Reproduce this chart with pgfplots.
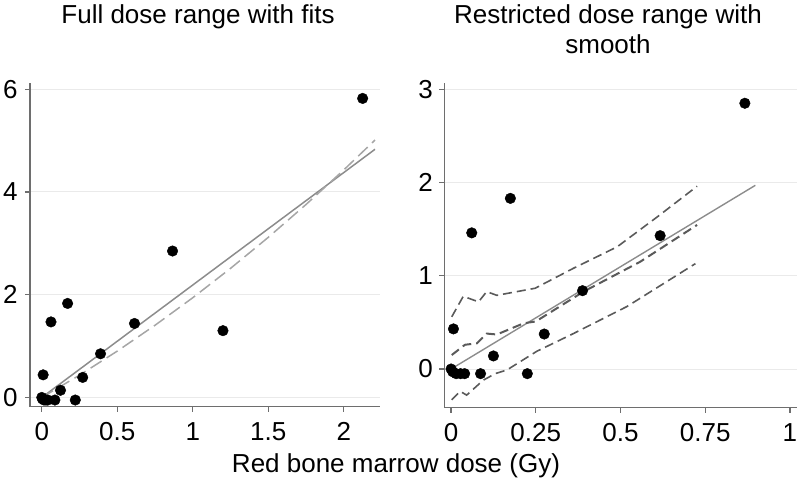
\documentclass[border=0pt]{standalone}
\usepackage{pgfplots}
\pgfplotsset{compat=1.18}
\usepackage{fontspec}
\setmainfont{Liberation Sans}
\definecolor{axc}{HTML}{6E6E6E}
\definecolor{gridc}{HTML}{EAEAEA}
\definecolor{fitc}{HTML}{8C8C8C}
\definecolor{qfitc}{HTML}{A6A6A6}
\definecolor{smc}{HTML}{5A5A5A}
\pgfplotsset{
  panel/.style={
    scale only axis,
    axis x line=bottom, axis y line=left,
    axis line style={draw=axc, line width=1.4pt, -},
    tick style={draw=axc, line width=1.2pt},
    tick align=outside, major tick length=5pt,
    ymajorgrids, grid style={draw=gridc, line width=1pt},
    ticklabel style={font=\fontsize{26}{30}\selectfont},
    xticklabel style={yshift=-7pt},
    /pgf/number format/assume math mode=true,
    clip=false,
  },
  pts/.style={only marks, mark=*, mark size=5.3pt, black, mark options={fill=black, draw=black}},
}
\begin{document}
\begin{tikzpicture}
\useasboundingbox (0,0) rectangle (798pt,-489pt);
% Left panel
\begin{axis}[panel, at={(30pt,-406.7pt)}, anchor=south west,
  width=350pt, height=323.7pt,
  xmin=-0.078, xmax=2.24, ymin=-0.18, ymax=6.12,
  xtick={0,0.5,1,1.5,2}, ytick={0,2,4,6},
  yticklabel style={xshift=-4pt}]
\addplot[fitc, line width=1.5pt] coordinates {(0,0.0) (2.207,4.83)};
\addplot[qfitc, line width=1.5pt, dash pattern=on 13pt off 6pt] coordinates {
 (0,0) (0.25,0.434) (0.5,0.902) (0.75,1.405) (1.0,1.941) (1.25,2.512)
 (1.5,3.116) (1.75,3.755) (2.0,4.428) (2.207,5.01)};
\addplot[pts] coordinates {
 (0.000,0.00) (0.005,-0.03) (0.015,-0.05) (0.028,-0.05) (0.040,-0.05)
 (0.009,0.44) (0.061,1.47) (0.087,-0.05) (0.124,0.14) (0.171,1.83)
 (0.222,-0.05) (0.271,0.39) (0.389,0.85) (0.614,1.44) (0.866,2.85)
 (1.200,1.30) (2.125,5.82)};
\end{axis}
% Right panel
\begin{axis}[panel, at={(444.3pt,-407.7pt)}, anchor=south west,
  width=352.4pt, height=324.4pt,
  xmin=-0.02, xmax=1.02, ymin=-0.415, ymax=3.064,
  xtick={0,0.25,0.5,0.75,1}, ytick={0,1,2,3},
  xticklabels={0,0.25,0.5,0.75,1},
  yticklabel style={xshift=-3pt}]
\addplot[fitc, line width=1.4pt] coordinates {(0,0.0) (0.898,1.97)};
\addplot[smc, line width=2pt, dash pattern=on 9pt off 5pt] coordinates {
 (0.002,0.15) (0.041,0.26) (0.076,0.275) (0.105,0.38) (0.135,0.37)
 (0.214,0.49) (0.25,0.51) (0.391,0.83) (0.558,1.15) (0.726,1.545)};
\addplot[smc, line width=1.6pt, dash pattern=on 9pt off 5pt] coordinates {
 (0.002,0.56) (0.036,0.78) (0.081,0.72) (0.105,0.83) (0.135,0.79)
 (0.248,0.866) (0.361,1.08) (0.49,1.31) (0.608,1.63) (0.726,1.96)};
\addplot[smc, line width=1.6pt, dash pattern=on 9pt off 5pt] coordinates {
 (0.002,-0.33) (0.027,-0.24) (0.046,-0.28) (0.095,-0.12) (0.13,-0.05)
 (0.165,-0.01) (0.253,0.19) (0.361,0.38) (0.519,0.67) (0.721,1.13)};
\addplot[pts] coordinates {
 (0.000,0.00) (0.005,-0.03) (0.015,-0.05) (0.028,-0.05) (0.040,-0.05)
 (0.007,0.43) (0.061,1.46) (0.087,-0.05) (0.125,0.14) (0.175,1.83)
 (0.225,-0.05) (0.275,0.375) (0.388,0.84) (0.617,1.43) (0.867,2.85)};
\end{axis}
\node[anchor=base, font=\fontsize{26}{30}\selectfont] at (198pt,-23.3pt) {Full dose range with fits};
\node[anchor=base, font=\fontsize{26}{30}\selectfont] at (608pt,-23.3pt) {Restricted dose range with};
\node[anchor=base, font=\fontsize{26}{30}\selectfont] at (608pt,-54pt) {smooth};
\node[anchor=base, font=\fontsize{26}{30}\selectfont] at (396pt,-472.5pt) {Red bone marrow dose (Gy)};
\end{tikzpicture}
\end{document}
